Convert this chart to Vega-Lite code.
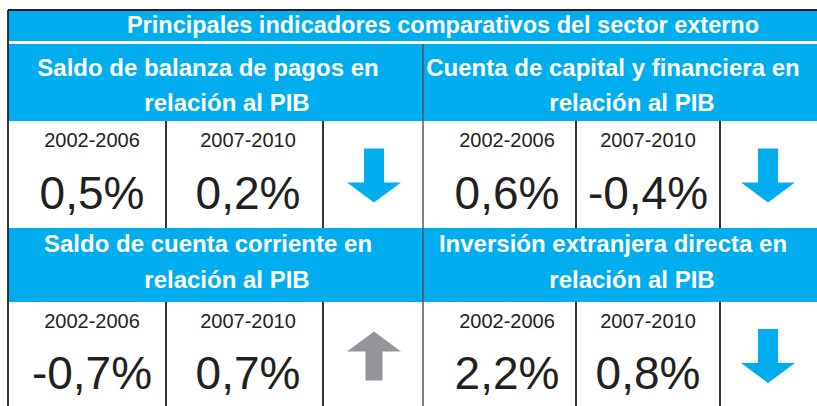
{
  "$schema": "https://vega.github.io/schema/vega-lite/v6.json",
  "width": 817,
  "height": 406,
  "padding": 0,
  "autosize": {"type": "none"},
  "background": "white",
  "config": {
    "view": {"stroke": null},
    "text": {"font": "Liberation Sans"},
    "locale": {
      "number": {"decimal": ",", "thousands": ".", "grouping": [3], "currency": ["", " €"], "minus": "-", "percent": "%"}
    }
  },
  "datasets": {
    "bandas": [
      {"banda": "Título", "desde": 0, "hasta": 1},
      {"banda": "Encabezados superiores", "desde": 2, "hasta": 3},
      {"banda": "Encabezados inferiores", "desde": 4, "hasta": 5}
    ],
    "divisiones": [
      {"tipo": "borde", "borde": 0, "desde": 0, "hasta": 6},
      {"tipo": "panel", "borde": 3, "desde": 2, "hasta": 6},
      {"tipo": "celda", "borde": 1, "desde": 3, "hasta": 4},
      {"tipo": "celda", "borde": 2, "desde": 3, "hasta": 4},
      {"tipo": "celda", "borde": 4, "desde": 3, "hasta": 4},
      {"tipo": "celda", "borde": 5, "desde": 3, "hasta": 4},
      {"tipo": "celda", "borde": 1, "desde": 5, "hasta": 6},
      {"tipo": "celda", "borde": 2, "desde": 5, "hasta": 6},
      {"tipo": "celda", "borde": 4, "desde": 5, "hasta": 6},
      {"tipo": "celda", "borde": 5, "desde": 5, "hasta": 6}
    ],
    "titulo": [
      {"zona": "tabla", "titulo": "Principales indicadores comparativos del sector externo"}
    ],
    "indicadores": [
      {"indicador": "Saldo de balanza de pagos en relación al PIB", "linea1": "Saldo de balanza de pagos en", "linea2": "relación al PIB", "panel": "izquierda", "fila": 1, "tendencia": "baja", "columna_flecha": 3},
      {"indicador": "Cuenta de capital y financiera en relación al PIB", "linea1": "Cuenta de capital y financiera en", "linea2": "relación al PIB", "panel": "derecha", "fila": 1, "tendencia": "baja", "columna_flecha": 6},
      {"indicador": "Saldo de cuenta corriente en relación al PIB", "linea1": "Saldo de cuenta corriente en", "linea2": "relación al PIB", "panel": "izquierda", "fila": 2, "tendencia": "sube", "columna_flecha": 3},
      {"indicador": "Inversión extranjera directa en relación al PIB", "linea1": "Inversión extranjera directa en", "linea2": "relación al PIB", "panel": "derecha", "fila": 2, "tendencia": "baja", "columna_flecha": 6}
    ],
    "valores": [
      {"indicador": "Saldo de balanza de pagos en relación al PIB", "periodo": "2002-2006", "valor": 0.005, "fila": 1, "columna": 1},
      {"indicador": "Saldo de balanza de pagos en relación al PIB", "periodo": "2007-2010", "valor": 0.002, "fila": 1, "columna": 2},
      {"indicador": "Cuenta de capital y financiera en relación al PIB", "periodo": "2002-2006", "valor": 0.006, "fila": 1, "columna": 4},
      {"indicador": "Cuenta de capital y financiera en relación al PIB", "periodo": "2007-2010", "valor": -0.004, "fila": 1, "columna": 5},
      {"indicador": "Saldo de cuenta corriente en relación al PIB", "periodo": "2002-2006", "valor": -0.007, "fila": 2, "columna": 1},
      {"indicador": "Saldo de cuenta corriente en relación al PIB", "periodo": "2007-2010", "valor": 0.007, "fila": 2, "columna": 2},
      {"indicador": "Inversión extranjera directa en relación al PIB", "periodo": "2002-2006", "valor": 0.022, "fila": 2, "columna": 4},
      {"indicador": "Inversión extranjera directa en relación al PIB", "periodo": "2007-2010", "valor": 0.008, "fila": 2, "columna": 5}
    ]
  },
  "layer": [
    {
      "layer": [
        {
          "data": {"name": "bandas"},
          "mark": {"type": "rect", "color": "#00AEEF"},
          "encoding": {
            "x": {"datum": 0, "type": "quantitative", "scale": {"domain": [0, 1, 2, 3, 4, 5, 6], "range": [8, 166, 323, 423, 576, 720, 830], "nice": false, "zero": false}, "axis": null},
            "x2": {"datum": 6},
            "y": {"field": "desde", "type": "quantitative", "scale": {"domain": [0, 1, 2, 3, 4, 5, 6], "range": [10, 41, 44, 121, 228, 302, 412], "nice": false, "zero": false}, "axis": null},
            "y2": {"field": "hasta"}
          }
        },
        {
          "data": {"name": "divisiones"},
          "transform": [{"filter": "datum.tipo !== 'panel'"}],
          "mark": {"type": "rule", "color": "#231F20", "strokeWidth": 1.8},
          "encoding": {
            "x": {"field": "borde", "type": "quantitative"},
            "y": {"field": "desde", "type": "quantitative"},
            "y2": {"field": "hasta"}
          }
        },
        {
          "data": {"name": "divisiones"},
          "transform": [{"filter": "datum.tipo === 'panel'"}],
          "mark": {"type": "rule", "color": "#4D4D4F", "strokeWidth": 1.4},
          "encoding": {
            "x": {"field": "borde", "type": "quantitative"},
            "y": {"field": "desde", "type": "quantitative"},
            "y2": {"field": "hasta"}
          }
        },
        {
          "data": {"name": "titulo"},
          "mark": {"type": "rule", "color": "#231F20", "strokeWidth": 2},
          "encoding": {
            "x": {"datum": 0, "type": "quantitative"},
            "x2": {"datum": 6},
            "y": {"datum": 0, "type": "quantitative"}
          }
        }
      ]
    },
    {
      "data": {"name": "titulo"},
      "mark": {"type": "text", "font": "Liberation Sans", "fontWeight": "bold", "fontSize": 23.5, "color": "white", "baseline": "middle", "align": "center"},
      "encoding": {
        "x": {"field": "zona", "type": "nominal", "scale": {"type": "point", "domain": ["tabla"], "range": [7, 879], "padding": 0.5}, "axis": null},
        "y": {"field": "zona", "type": "nominal", "scale": {"type": "point", "domain": ["tabla"], "range": [10, 42], "padding": 0.5}, "axis": null},
        "text": {"field": "titulo"}
      }
    },
    {
      "data": {"name": "indicadores"},
      "encoding": {
        "x": {"field": "panel", "type": "nominal", "scale": {"type": "point", "domain": ["izquierda", "derecha"], "range": [215, 620], "padding": 0}, "axis": null},
        "y": {"field": "fila", "type": "quantitative", "scale": {"domain": [1, 2], "range": [76, 252.3], "nice": false, "zero": false}, "axis": null}
      },
      "layer": [
        {
          "mark": {"type": "text", "font": "Liberation Sans", "fontWeight": "bold", "fontSize": 24, "color": "white", "baseline": "alphabetic", "align": "center", "dx": -7},
          "encoding": {"text": {"field": "linea1"}}
        },
        {
          "mark": {"type": "text", "font": "Liberation Sans", "fontWeight": "bold", "fontSize": 24, "color": "white", "baseline": "alphabetic", "align": "center", "dx": 12, "dy": 35.3},
          "encoding": {"text": {"field": "linea2"}}
        }
      ]
    },
    {
      "layer": [
        {
          "data": {"name": "valores"},
          "mark": {"type": "text", "font": "Liberation Sans", "fontSize": 20, "color": "#231F20", "baseline": "alphabetic", "align": "center", "dy": -28.4},
          "encoding": {
            "x": {"field": "columna", "type": "quantitative", "scale": {"domain": [1, 2, 3, 4, 5, 6], "range": [92, 248, 374, 507, 648, 768], "nice": false, "zero": false}, "axis": null},
            "y": {"field": "fila", "type": "quantitative", "scale": {"domain": [1, 2], "range": [175.5, 356], "nice": false, "zero": false}, "axis": null},
            "text": {"field": "periodo"}
          }
        },
        {
          "data": {"name": "valores"},
          "mark": {"type": "text", "font": "Liberation Sans", "fontSize": 46, "color": "#231F20", "baseline": "alphabetic", "align": "center", "dy": 33},
          "encoding": {
            "x": {"field": "columna", "type": "quantitative"},
            "y": {"field": "fila", "type": "quantitative"},
            "text": {"field": "valor", "type": "quantitative", "format": ".1%"}
          }
        },
        {
          "data": {"name": "indicadores"},
          "mark": {"type": "point", "filled": true, "opacity": 1, "strokeWidth": 0, "size": 2916},
          "encoding": {
            "x": {"field": "columna_flecha", "type": "quantitative"},
            "y": {"field": "fila", "type": "quantitative"},
            "shape": {"field": "tendencia", "type": "nominal", "scale": {"domain": ["baja", "sube"], "range": ["M-0.37,-1L0.37,-1L0.37,0.26L1,0.26L0,1L-1,0.26L-0.37,0.26Z", "M0,-0.907L1,-0.167L0.315,-0.167L0.315,0.907L-0.315,0.907L-0.315,-0.167L-1,-0.167Z"]}, "legend": null},
            "color": {"field": "tendencia", "type": "nominal", "scale": {"domain": ["baja", "sube"], "range": ["#00AEEF", "#939598"]}, "legend": null}
          }
        }
      ]
    }
  ],
  "resolve": {"scale": {"x": "independent", "y": "independent"}}
}
